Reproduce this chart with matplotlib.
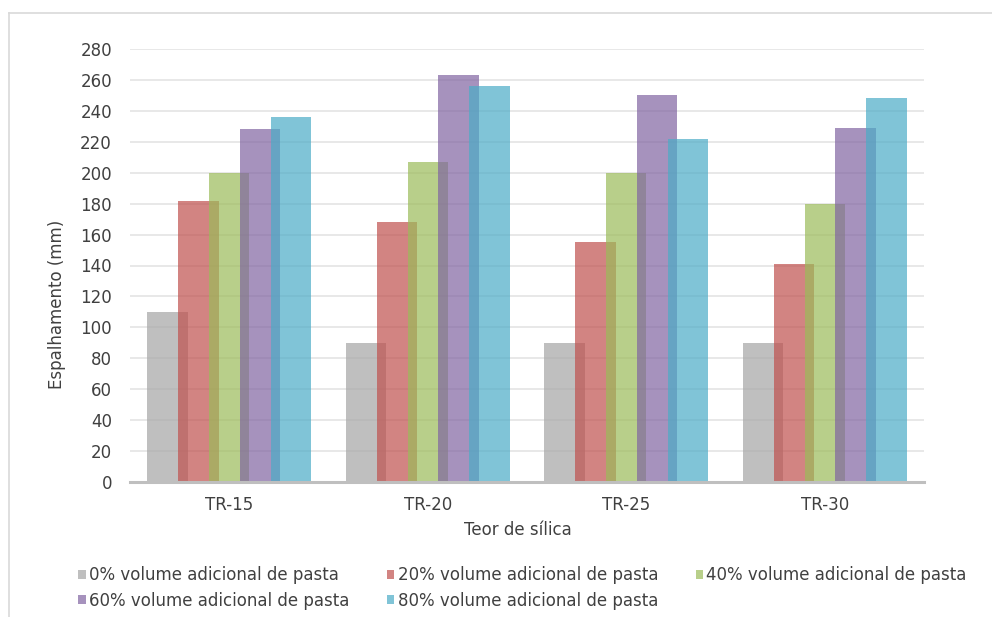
import matplotlib
matplotlib.use("Agg")
import matplotlib.pyplot as plt
from matplotlib.lines import Line2D
import numpy as np

plt.rcParams['font.family'] = ['DejaVu Sans']

categories = ["TR-15", "TR-20", "TR-25", "TR-30"]
series_names = [
    "0% volume adicional de pasta",
    "20% volume adicional de pasta",
    "40% volume adicional de pasta",
    "60% volume adicional de pasta",
    "80% volume adicional de pasta",
]
vol_0 = [110, 90, 90, 90]
vol_20 = [182, 168, 155, 141]
vol_40 = [200, 207, 200, 180]
vol_60 = [228, 263, 250, 229]
vol_80 = [236, 256, 222, 248]
series_values = [vol_0, vol_20, vol_40, vol_60, vol_80]
colors = ["#A5A5A5", "#C0504D", "#9BBB59", "#8064A2", "#4BACC6"]
y_ticks = list(range(0, 281, 20))

text_color = "#404040"
fs = 12

fig = plt.figure(figsize=(9.92, 6.17), dpi=100)
ax = fig.add_axes([130 / 992, 1 - 482 / 617, 794 / 992, 433 / 617])

x = np.arange(len(categories))
bar_w = 0.204
step = 0.156
handles = []
for k, (vals, col, name) in enumerate(zip(series_values, colors, series_names)):
    b = ax.bar(x + (k - 2) * step, vals, width=bar_w, color=col, alpha=0.7,
               label=name, zorder=2 + k, linewidth=0)
    handles.append(b)

ax.set_xlim(-0.5, 3.5)
ax.set_ylim(0, 280)
ax.set_yticks(y_ticks)
ax.set_xticks(x)
ax.set_xticklabels(categories)
ax.yaxis.grid(True, color="#e4e4e4", linewidth=1.2, zorder=0)
ax.set_axisbelow(True)
for s in ["top", "right", "left"]:
    ax.spines[s].set_visible(False)
ax.spines["bottom"].set_color("#bfbfbf")
ax.spines["bottom"].set_linewidth(2.2)
ax.spines["bottom"].set_zorder(10)
ax.tick_params(axis="both", length=0, labelsize=fs, colors=text_color)
ax.tick_params(axis="y", pad=13)
ax.tick_params(axis="x", pad=10)

fig.text(57 / 992, 1 - 304 / 617, "Espalhamento (mm)", rotation=90,
         ha="center", va="center", fontsize=fs, color=text_color)
fig.text(518 / 992, 1 - 530 / 617, "Teor de sílica",
         ha="center", va="center", fontsize=fs, color=text_color)

# legend laid out row by row (3 columns)
order = [0, 3, 1, 4, 2]
leg = fig.legend([handles[i] for i in order], [series_names[i] for i in order],
                 ncol=3, loc="upper left", bbox_to_anchor=(78 / 992, 1 - 566 / 617),
                 frameon=False, fontsize=fs, handlelength=0.45, handleheight=0.45,
                 handletextpad=0.2, columnspacing=2.25, labelspacing=0.45,
                 borderpad=0, borderaxespad=0)
for t in leg.get_texts():
    t.set_color(text_color)

# chart frame
fig.add_artist(Line2D([9 / 992, 1.0], [1 - 13 / 617, 1 - 13 / 617],
                      transform=fig.transFigure, color="#d9d9d9", linewidth=1.2))
fig.add_artist(Line2D([9 / 992, 9 / 992], [0.0, 1 - 13 / 617],
                      transform=fig.transFigure, color="#d9d9d9", linewidth=1.2))

fig.savefig("out.png", dpi=100, facecolor="white")
